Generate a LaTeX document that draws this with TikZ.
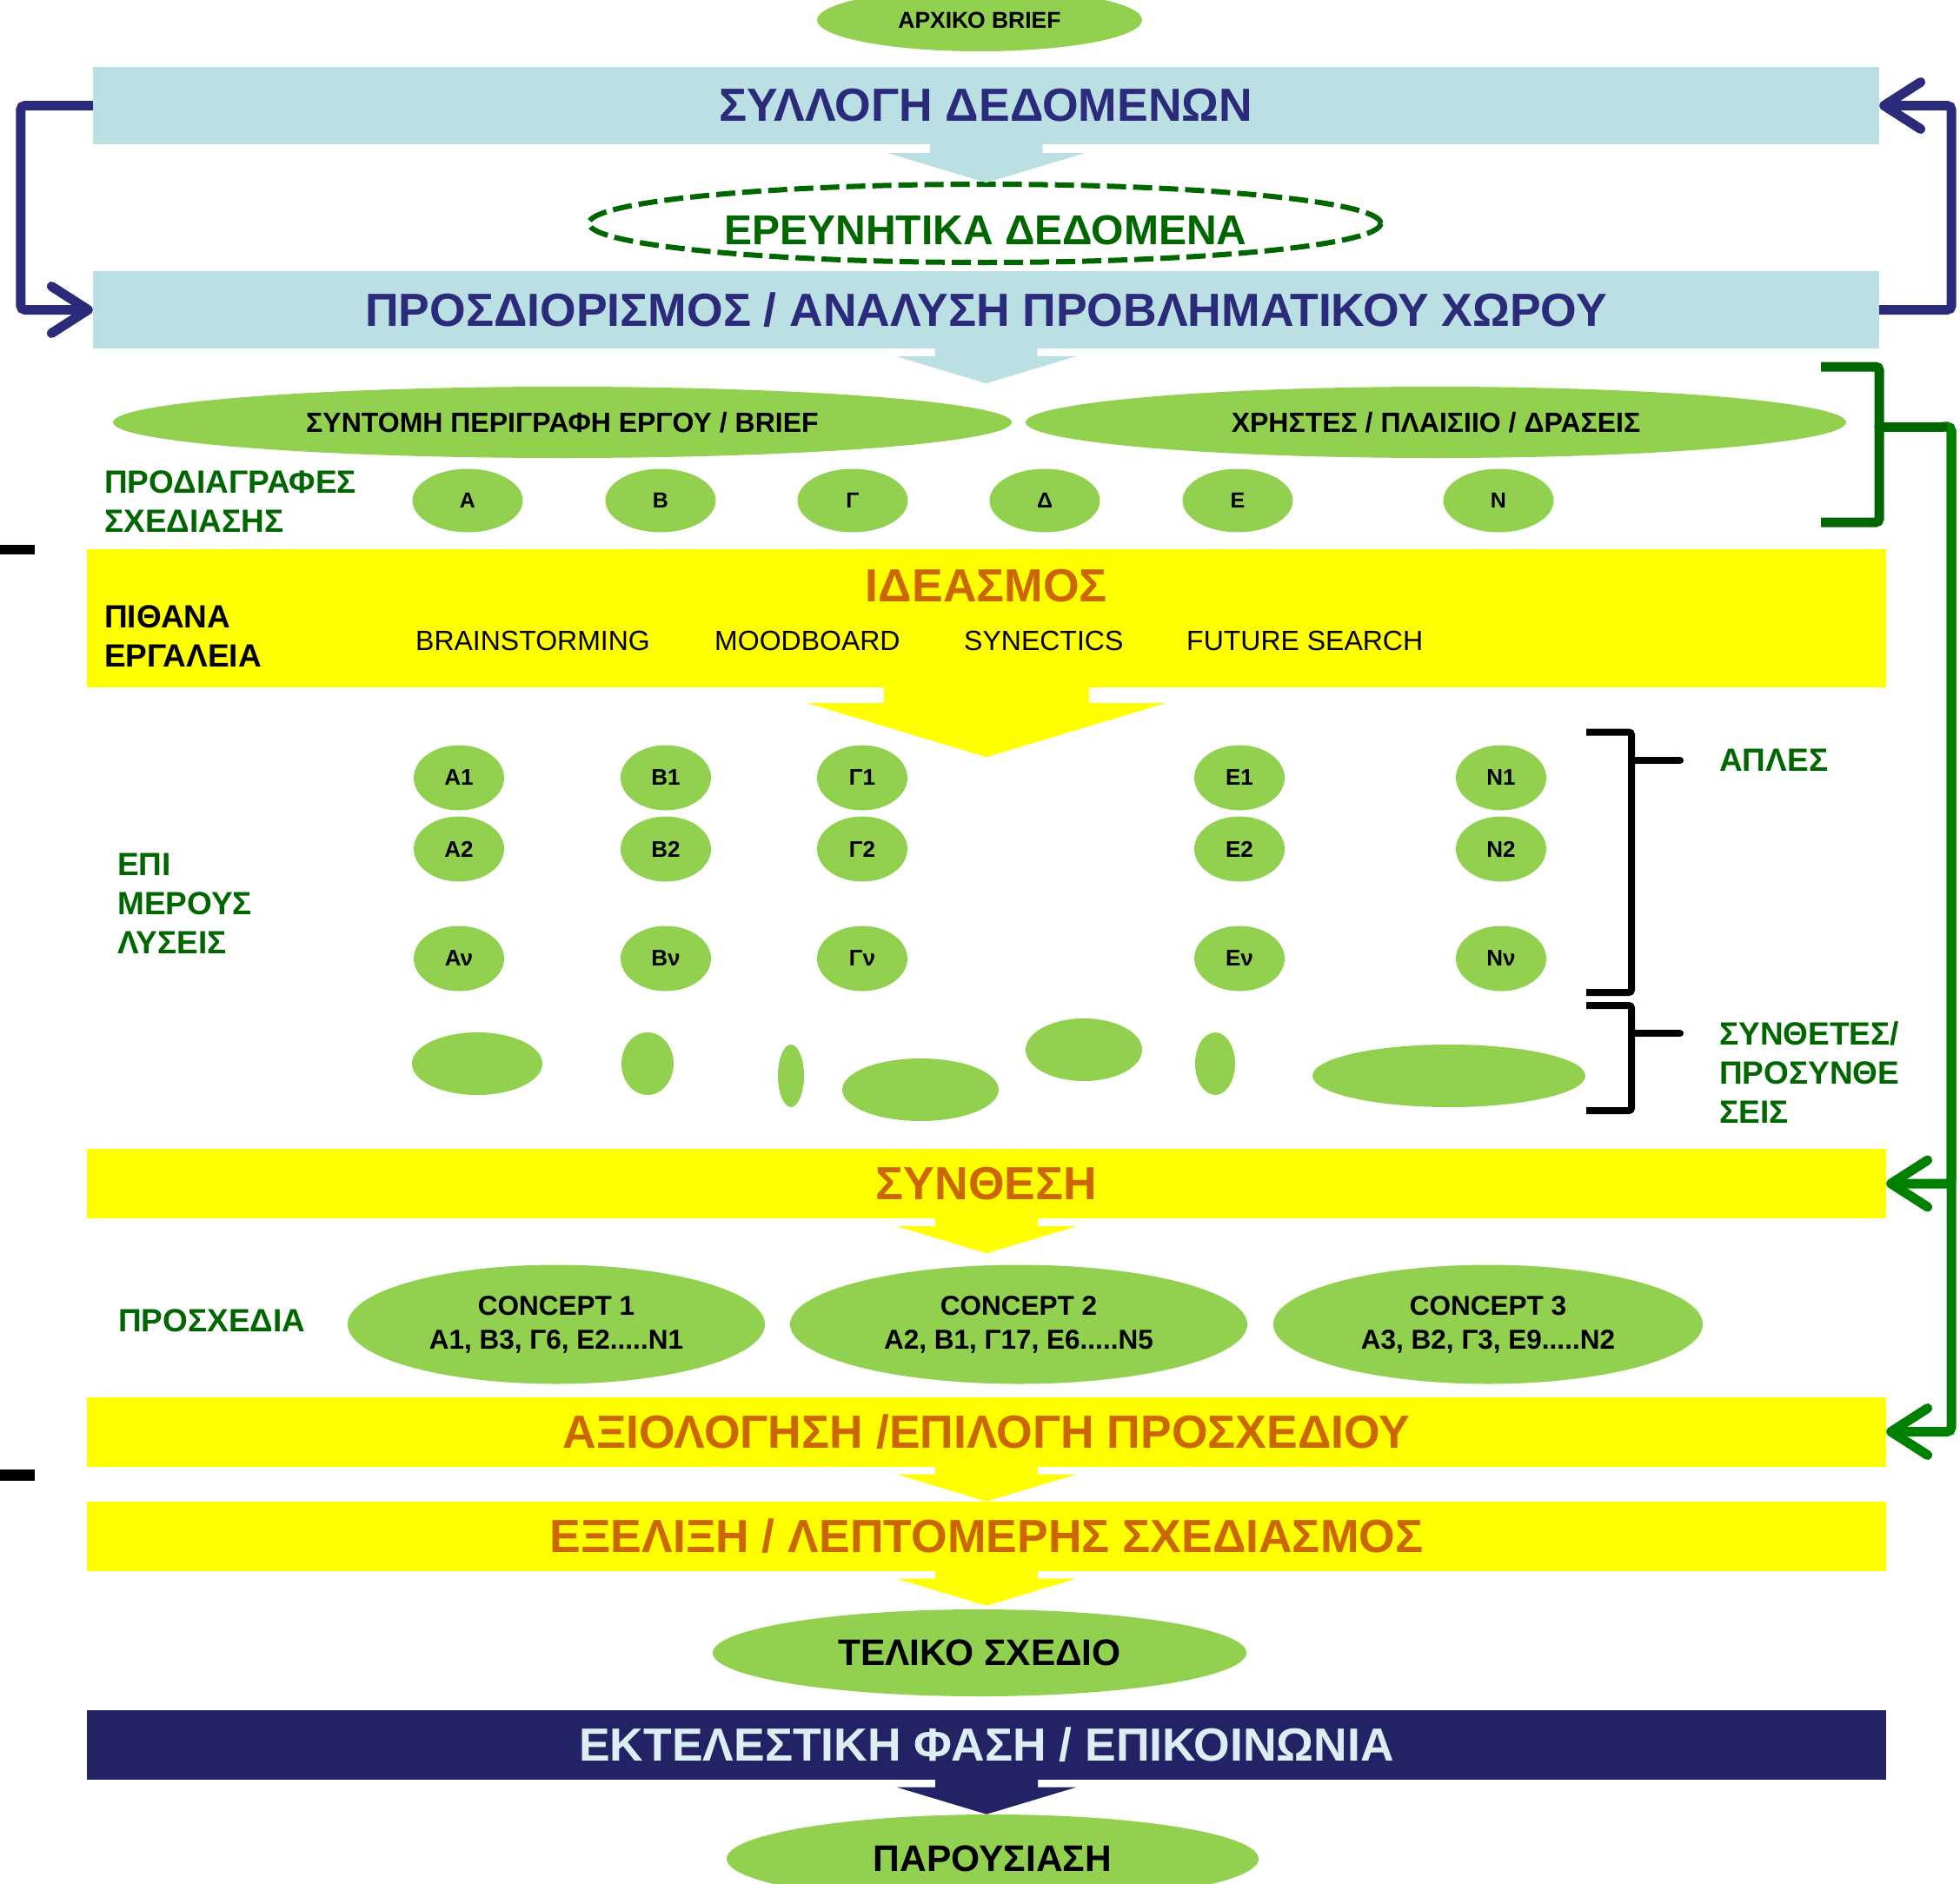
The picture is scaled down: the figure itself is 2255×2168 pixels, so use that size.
\documentclass[tikz,border=0pt]{standalone}
\usepackage{fontspec}
\setmainfont{Liberation Sans}
\usetikzlibrary{arrows.meta,shapes.geometric}
\definecolor{lblue}{RGB}{187,224,227}
\definecolor{navy}{RGB}{44,42,122}
\definecolor{dnavy}{RGB}{34,34,100}
\definecolor{ptext}{RGB}{220,238,243}
\definecolor{lgreen}{RGB}{146,208,80}
\definecolor{dgreen}{RGB}{0,102,0}
\definecolor{mgreen}{RGB}{0,128,0}
\definecolor{orng}{RGB}{204,102,0}
\definecolor{ylw}{RGB}{255,255,0}

\begin{document}
\begin{tikzpicture}
	[x=1pt,y=1pt,
	ttl/.style={font=\bfseries\fontsize{53.5}{60}\selectfont},
	bar/.style={ttl, rectangle, inner sep=0, minimum width=2055pt, minimum height=89pt, fill=lblue, text=navy},
	ybar/.style={ttl, rectangle, inner sep=0, minimum width=2070pt, minimum height=80pt, fill=ylw, text=orng},
	gel/.style={ellipse, inner sep=0, fill=lgreen, align=center, font=\bfseries\fontsize{32}{39}\selectfont},
	sel/.style={gel, minimum width=104pt, minimum height=75pt, font=\bfseries\fontsize{26}{30}\selectfont},
	blob/.style={ellipse, inner sep=0, fill=lgreen, minimum height=72pt},
	lbl/.style={anchor=west, inner sep=0, align=left, text=dgreen, font=\bfseries\fontsize{37}{45}\selectfont},
	tool/.style={anchor=west, inner sep=0, font=\fontsize{32}{36}\selectfont},
	fb/.style={line width=11pt, rounded corners=5pt, -{Straight Barb[length=42pt,width=54pt,round]}},
	brk/.style={line width=11pt, draw=dgreen, rounded corners=4pt},
	kbrk/.style={line width=8pt, rounded corners=3pt}]
	\useasboundingbox (0,0) rectangle (2255,-2168);
	\clip (0,0) rectangle (2255,-2168);

	\node[gel, minimum width=374pt, minimum height=72pt, font=\bfseries\fontsize{26.5}{30}\selectfont] (brief) at (1127,-23) {ΑΡΧΙΚΟ BRIEF};
	\node[bar] (coll) at (1134.5,-121.5) {ΣΥΛΛΟΓΗ ΔΕΔΟΜΕΝΩΝ};
	\node[ellipse, draw=dgreen, line width=6pt, dash pattern=on 22pt off 8pt, minimum width=911pt, minimum height=90pt] (res) at (1133,-257) {};
	\node[ttl, text=dgreen, font=\bfseries\fontsize{48}{56}\selectfont] (rest) at (1134,-265) {ΕΡΕΥΝΗΤΙΚΑ ΔΕΔΟΜΕΝΑ};
	\node[bar] (prob) at (1134.5,-356.5) {ΠΡΟΣΔΙΟΡΙΣΜΟΣ / ΑΝΑΛΥΣΗ ΠΡΟΒΛΗΜΑΤΙΚΟΥ ΧΩΡΟΥ};

	\node[gel, minimum width=1034pt, minimum height=82pt] (desc) at (647,-486) {ΣΥΝΤΟΜΗ ΠΕΡΙΓΡΑΦΗ ΕΡΓΟΥ / BRIEF};
	\node[gel, minimum width=944pt, minimum height=82pt] (users) at (1652,-486) {ΧΡΗΣΤΕΣ / ΠΛΑΙΣΙΙΟ / ΔΡΑΣΕΙΣ};
	\node[lbl] (specl) at (120,-577.5) {ΠΡΟΔΙΑΓΡΑΦΕΣ\\ΣΧΕΔΙΑΣΗΣ};
	\foreach \lt/\nm/\xx in {Α/sa/538, Β/sb/760, Γ/sg/981, Δ/sdl/1202, Ε/se/1424, Ν/sn/1724}
		\node[sel, minimum width=127pt, minimum height=73pt, font=\bfseries\fontsize{25}{30}\selectfont] (\nm) at (\xx,-576) {\lt};

	\node[ybar, minimum height=159pt] (idea) at (1135,-711.5) {};
	\node[ttl, text=orng] (ideat) at (1135,-674) {ΙΔΕΑΣΜΟΣ};
	\node[lbl, text=black] (tools) at (120,-732) {ΠΙΘΑΝΑ\\ΕΡΓΑΛΕΙΑ};
	\node[tool] (t1) at (478,-737) {BRAINSTORMING};
	\node[tool] (t2) at (822,-737) {MOODBOARD};
	\node[tool] (t3) at (1109,-737) {SYNECTICS};
	\node[tool] (t4) at (1365,-737) {FUTURE SEARCH};

	\node[lbl] (partl) at (135,-1039.5) {ΕΠΙ\\ΜΕΡΟΥΣ\\ΛΥΣΕΙΣ};
	\foreach \lt/\nm/\xx in {Α/a/528, Β/b/766, Γ/g/992, Ε/e/1426, Ν/n/1727}{
		\node[sel] (\nm1) at (\xx,-895) {\lt1};
		\node[sel] (\nm2) at (\xx,-977) {\lt2};
		\node[sel] (\nm-nu) at (\xx,-1103) {{\lt}ν};
	}
	\node[blob, minimum width=150pt] (m1) at (549,-1224) {};
	\node[blob, minimum width=60pt] (m2) at (745,-1224) {};
	\node[blob, minimum width=30pt] (m3) at (910,-1238) {};
	\node[blob, minimum width=180pt] (m4) at (1059,-1254) {};
	\node[blob, minimum width=134pt] (m5) at (1247,-1208) {};
	\node[blob, minimum width=46pt] (m6) at (1398,-1224) {};
	\node[blob, minimum width=314pt] (m7) at (1667,-1238) {};
	\node[lbl] (simple) at (1978,-875) {ΑΠΛΕΣ};
	\node[lbl] (compl) at (1978,-1234.5) {ΣΥΝΘΕΤΕΣ/\\ΠΡΟΣΥΝΘΕ\\ΣΕΙΣ};

	\node[ybar] (synth) at (1135,-1362) {ΣΥΝΘΕΣΗ};
	\node[lbl] (pre) at (136,-1520) {ΠΡΟΣΧΕΔΙΑ};
	\node[gel, minimum width=480pt, minimum height=137pt, font=\bfseries\fontsize{31.5}{39}\selectfont] (c1) at (640,-1524) {CONCEPT 1\\Α1, Β3, Γ6, Ε2.....Ν1};
	\node[gel, minimum width=526pt, minimum height=137pt, font=\bfseries\fontsize{31.5}{39}\selectfont] (c2) at (1172,-1524) {CONCEPT 2\\Α2, Β1, Γ17, Ε6.....Ν5};
	\node[gel, minimum width=494pt, minimum height=137pt, font=\bfseries\fontsize{31.5}{39}\selectfont] (c3) at (1712,-1524) {CONCEPT 3\\Α3, Β2, Γ3, Ε9.....Ν2};
	\node[ybar] (eval) at (1135,-1647.5) {ΑΞΙΟΛΟΓΗΣΗ /ΕΠΙΛΟΓΗ ΠΡΟΣΧΕΔΙΟΥ};
	\node[ybar] (devel) at (1135,-1767.5) {ΕΞΕΛΙΞΗ / ΛΕΠΤΟΜΕΡΗΣ ΣΧΕΔΙΑΣΜΟΣ};
	\node[gel, minimum width=614pt, minimum height=100pt, font=\bfseries\fontsize{42.5}{48}\selectfont] (final) at (1127,-1902) {ΤΕΛΙΚΟ ΣΧΕΔΙΟ};
	\node[ybar, fill=dnavy, text=ptext] (exec) at (1135,-2007.5) {ΕΚΤΕΛΕΣΤΙΚΗ ΦΑΣΗ / ΕΠΙΚΟΙΝΩΝΙΑ};
	\node[gel, minimum width=612pt, minimum height=102pt, font=\bfseries\fontsize{42.5}{48}\selectfont] (pres) at (1142,-2139) {ΠΑΡΟΥΣΙΑΣΗ};

	\foreach \nm/\cl/\sc in {coll/lblue/1.1, prob/lblue/1, idea/ylw/2, synth/ylw/1, eval/ylw/1, devel/ylw/1, exec/dnavy/1}
		\fill[\cl, scale=\sc] (\nm.south) ++(-59,0) -- ++(0,-9) -- ++(-44,0) -- ++(103,-31) -- ++(103,31) -- ++(-44,0) -- ++(0,9) -- cycle;

	\draw[fb, navy] (coll.west) -- ++(-83,0) |- (prob.west);
	\draw[fb, navy] (prob.east) -- ++(83,0) |- (coll.east);

	\coordinate (gb) at (2162,-491);
	\draw[fb, mgreen] (gb) ++(73,0) -- ++(10,0) |- (synth.east);
	\draw[fb, mgreen] (gb) ++(73,0) -- ++(10,0) |- (eval.east);
	\draw[brk] (2095,-422) -| (gb) |- (2095,-601);
	\draw[brk, line cap=round] (gb) -- ++(73,0);

	\draw[kbrk] (1825,-842.5) -| (1877,-1142) -- (1825,-1142);
	\draw[kbrk, line cap=round] (1877,-875) -- (1933,-875);
	\draw[kbrk] (1825,-1157) -| (1877,-1278) -- (1825,-1278);
	\draw[kbrk, line cap=round] (1877,-1189) -- (1933,-1189);

	\fill (0,-627) rectangle (40,-638);
	\fill (0,-1691) rectangle (40,-1704);
\end{tikzpicture}
\end{document}
